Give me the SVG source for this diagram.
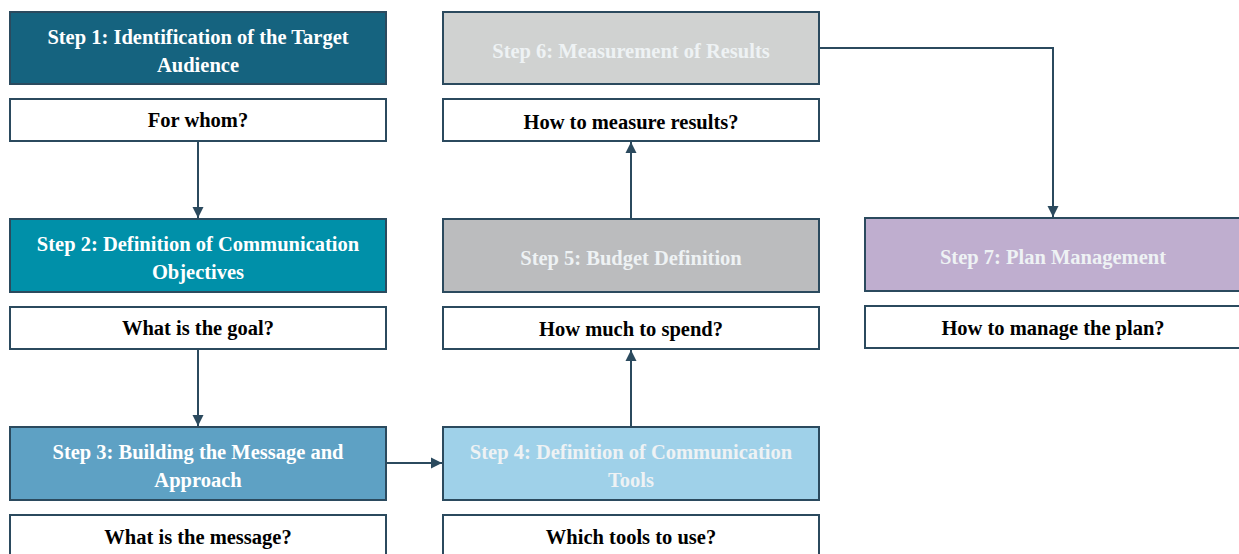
<svg xmlns="http://www.w3.org/2000/svg" width="1239" height="554" viewBox="0 0 1239 554">
<style>
.box{stroke:#2b4a5e;stroke-width:2}
.q{fill:#ffffff;stroke:#2b4a5e;stroke-width:2}
.t{font-family:"Liberation Serif","Times New Roman",serif;font-weight:bold;font-size:20.5px;text-anchor:middle}
.w{fill:#ffffff}
.f{fill:#eef2f4}
.k{fill:#000000}
.c{fill:none;stroke:#2b4a5e;stroke-width:2}
</style>
<defs>
<marker id="ah" viewBox="0 0 10 10" refX="10" refY="5" markerWidth="11" markerHeight="12" orient="auto" markerUnits="userSpaceOnUse">
<path d="M0,0 L10,5 L0,10 z" fill="#2b4a5e"/>
</marker>
</defs>
<rect width="1239" height="554" fill="#ffffff"/>
<g id="connectors">
<path class="c" d="M198,142 V218" marker-end="url(#ah)"/>
<path class="c" d="M198,350 V426" marker-end="url(#ah)"/>
<path class="c" d="M387,463 H442" marker-end="url(#ah)"/>
<path class="c" d="M631,426 V350" marker-end="url(#ah)"/>
<path class="c" d="M631,218 V142" marker-end="url(#ah)"/>
<path class="c" d="M820,48 H1053 V217" marker-end="url(#ah)"/>
</g>
<g id="step1">
<rect class="box" x="10" y="12" width="376" height="72" fill="#15637f"/>
<text class="t w" x="198" y="44">Step 1: Identification of the Target</text>
<text class="t w" x="198" y="72">Audience</text>
</g>
<g id="q1">
<rect class="q" x="10" y="99" width="376" height="42"/>
<text class="t k" x="198" y="127">For whom?</text>
</g>
<g id="step2">
<rect class="box" x="10" y="219" width="376" height="73" fill="#0090a9"/>
<text class="t w" x="198" y="251">Step 2: Definition of Communication</text>
<text class="t w" x="198" y="279">Objectives</text>
</g>
<g id="q2">
<rect class="q" x="10" y="307" width="376" height="42"/>
<text class="t k" x="198" y="335">What is the goal?</text>
</g>
<g id="step3">
<rect class="box" x="10" y="427" width="376" height="73" fill="#5ea1c4"/>
<text class="t w" x="198" y="459">Step 3: Building the Message and</text>
<text class="t w" x="198" y="487">Approach</text>
</g>
<g id="q3">
<rect class="q" x="10" y="515" width="376" height="44"/>
<text class="t k" x="198" y="544">What is the message?</text>
</g>
<g id="step4">
<rect class="box" x="443" y="427" width="376" height="73" fill="#9fd1e9"/>
<text class="t f" x="631" y="459">Step 4: Definition of Communication</text>
<text class="t f" x="631" y="487">Tools</text>
</g>
<g id="q4">
<rect class="q" x="443" y="515" width="376" height="44"/>
<text class="t k" x="631" y="544">Which tools to use?</text>
</g>
<g id="step5">
<rect class="box" x="443" y="219" width="376" height="73" fill="#bbbcbe"/>
<text class="t f" x="631" y="265">Step 5: Budget Definition</text>
</g>
<g id="q5">
<rect class="q" x="443" y="307" width="376" height="42"/>
<text class="t k" x="631" y="336">How much to spend?</text>
</g>
<g id="step6">
<rect class="box" x="443" y="12" width="376" height="72" fill="#d0d2d1"/>
<text class="t f" x="631" y="58">Step 6: Measurement of Results</text>
</g>
<g id="q6">
<rect class="q" x="443" y="99" width="376" height="42"/>
<text class="t k" x="631" y="129">How to measure results?</text>
</g>
<g id="step7">
<rect class="box" x="865" y="218" width="380" height="73" fill="#bfaecf"/>
<text class="t f" x="1053" y="264">Step 7: Plan Management</text>
</g>
<g id="q7">
<rect class="q" x="865" y="306" width="380" height="42"/>
<text class="t k" x="1053" y="335">How to manage the plan?</text>
</g>
</svg>
